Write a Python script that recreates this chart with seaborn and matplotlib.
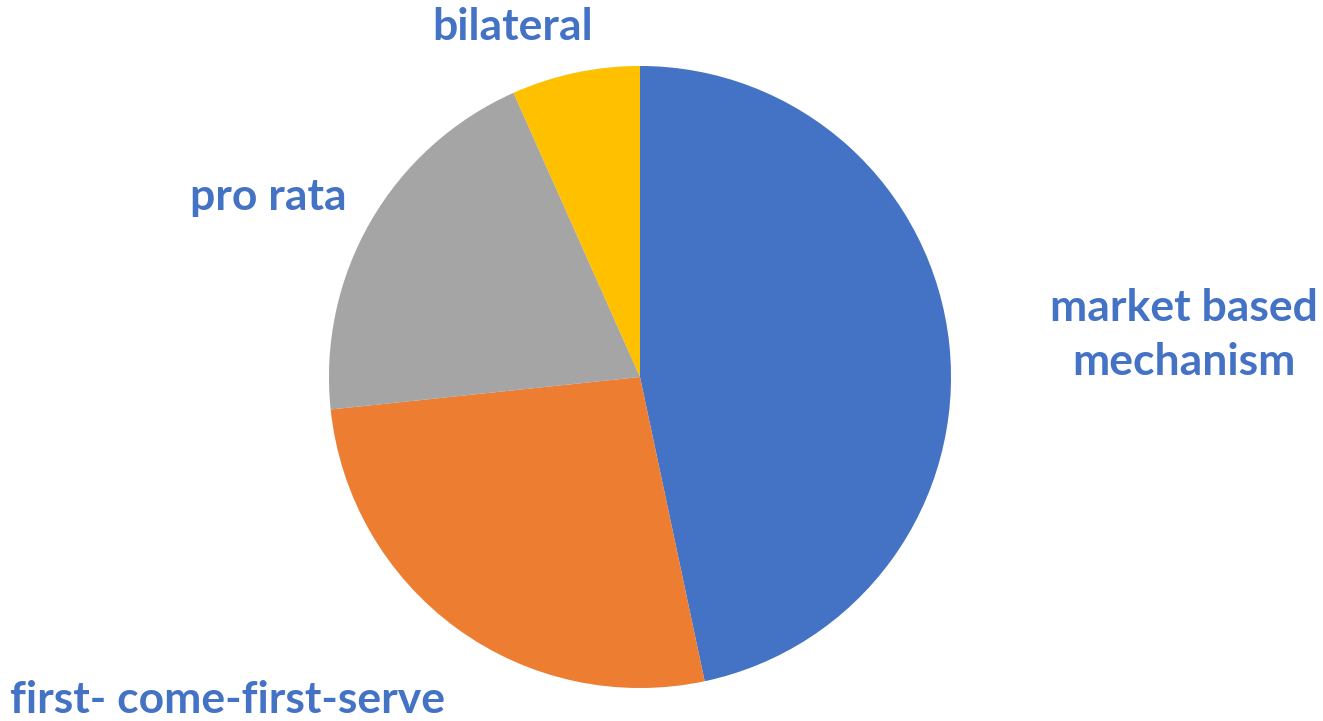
import matplotlib
matplotlib.use("Agg")
import matplotlib.pyplot as plt
import matplotlib.patheffects as pe
import seaborn as sns

# slices, clockwise from 12 o'clock
labels = ['market based\nmechanism', 'first- come-first-serve', 'pro rata', 'bilateral']
values = [7, 4, 3, 1]
colors = ['#4472C4', '#ED7D31', '#A5A5A5', '#FFC000']

sns.set_theme(style="white")
plt.rcParams['font.family'] = ['Lato', 'DejaVu Sans']

W, H = 1323, 721
fig = plt.figure(figsize=(W / 100, H / 100), dpi=100)
ax = fig.add_axes([0, 0, 1, 1])

wedges, _ = ax.pie(values, colors=colors, startangle=90, counterclock=False,
                   center=(640, H - 377), radius=311, frame=True,
                   wedgeprops=dict(linewidth=0))
for w in wedges:
    w.set_path_effects([pe.SimplePatchShadow(offset=(0, 0), shadow_rgbFace='#bbbbbb', alpha=0.3),
                        pe.Normal()])
ax.set_xlim(0, W)
ax.set_ylim(0, H)
ax.set_aspect('equal')
ax.axis('off')

label_pos = [(1184, 335), (227, 700), (268, 197), (513, 27)]
for lab, (x, y) in zip(labels, label_pos):
    ax.text(x, H - y, lab, ha='center', va='center', fontsize=32, fontweight='bold',
            color='#4472C4', linespacing=1.4)

fig.savefig('out.png', dpi=100)
